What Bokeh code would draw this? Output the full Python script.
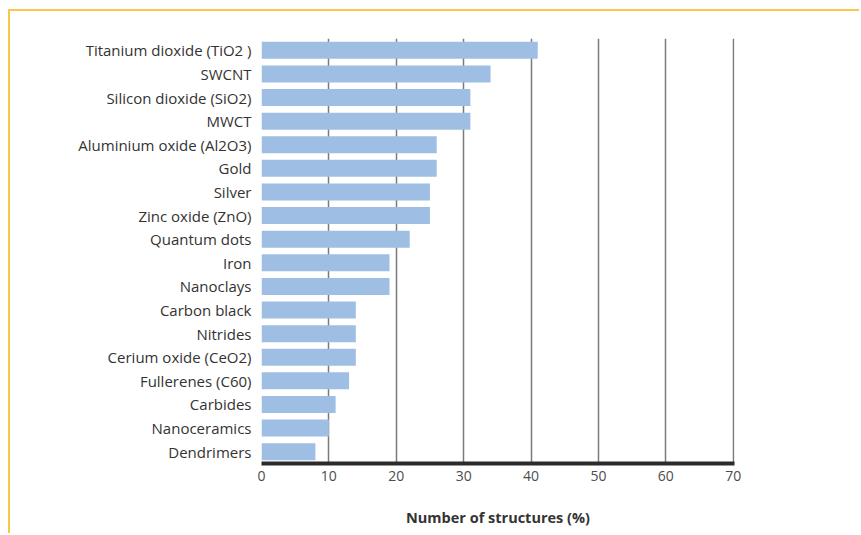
from bokeh.plotting import figure
from bokeh.models import Range1d, FactorRange, FixedTicker
from bokeh.embed import file_html
from bokeh.resources import INLINE

materials = ["Titanium dioxide (TiO2 )", "SWCNT", "Silicon dioxide (SiO2)", "MWCT",
             "Aluminium oxide (Al2O3)", "Gold", "Silver", "Zinc oxide (ZnO)",
             "Quantum dots", "Iron", "Nanoclays", "Carbon black", "Nitrides",
             "Cerium oxide (CeO2)", "Fullerenes (C60)", "Carbides", "Nanoceramics",
             "Dendrimers"]
structures = [41, 34, 31, 31, 26, 26, 25, 25, 22, 19, 19, 14, 14, 14, 13, 11, 10, 8]
x_ticks = [0, 10, 20, 30, 40, 50, 60, 70]

FONT = "Open Sans"

p = figure(width=851, height=524, output_backend="svg", toolbar_location=None,
           y_range=FactorRange(factors=list(reversed(materials)), range_padding=0),
           x_range=Range1d(x_ticks[0], x_ticks[-1] + 0.2),
           min_border_left=251, min_border_right=127, min_border_top=27,
           min_border_bottom=72)
p.styles = {"margin-left": "8px", "margin-top": "9px",
            "border-left": "2px solid #fcc64e", "border-top": "2px solid #fcc64e"}
p.outline_line_color = None

p.hbar(y=materials, right=structures, left=0, height=0.72,
       fill_color="#9ebfe3", line_color=None)

p.ygrid.grid_line_color = None
p.xgrid.ticker = FixedTicker(ticks=x_ticks)
p.xgrid.grid_line_color = "#7a7a7a"
p.xgrid.grid_line_width = 1.5
p.xgrid.level = "underlay"

p.xaxis.ticker = FixedTicker(ticks=x_ticks)
p.xaxis.axis_line_color = "#2b2b2b"
p.xaxis.axis_line_width = 4
p.xaxis.major_tick_line_color = None
p.xaxis.minor_tick_line_color = None
p.xaxis.major_label_standoff = 1
p.xaxis.major_label_text_font = FONT
p.xaxis.major_label_text_font_size = "14px"
p.xaxis.major_label_text_color = "#4d4d4d"
p.xaxis.axis_label = "Number of structures (%)"
p.xaxis.axis_label_text_font = FONT
p.xaxis.axis_label_text_font_size = "14.5px"
p.xaxis.axis_label_text_font_style = "bold"
p.xaxis.axis_label_text_color = "#333333"
p.xaxis.axis_label_standoff = 24

p.yaxis.axis_line_color = None
p.yaxis.major_tick_line_color = None
p.yaxis.minor_tick_line_color = None
p.yaxis.major_label_standoff = 4
p.yaxis.major_label_text_font = FONT
p.yaxis.major_label_text_font_size = "15px"
p.yaxis.major_label_text_color = "#333333"

p.background_fill_color = "white"
p.border_fill_color = "white"

open("out.html", "w").write(file_html(p, INLINE))
